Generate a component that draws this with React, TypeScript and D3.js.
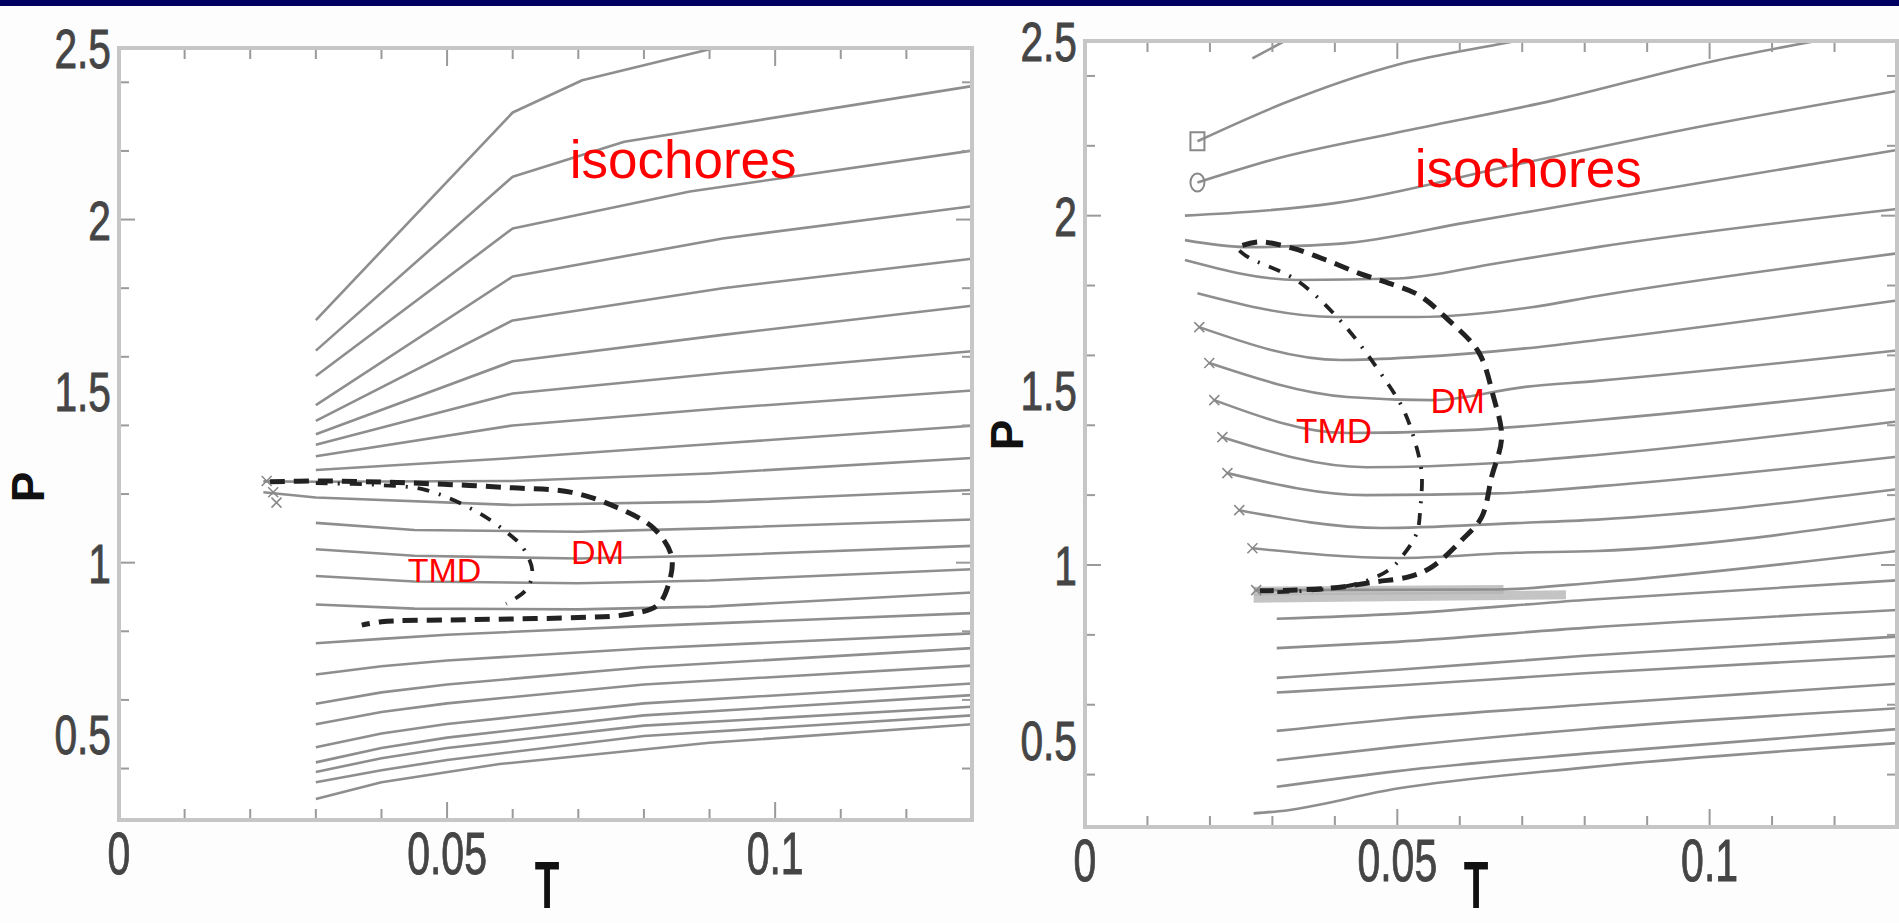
import React from "react";
import * as d3 from "d3";

type Pt = [number, number];

// tick labels
const xTickLabels = [0, 0.05, 0.1];
const yTickLabels = [0.5, 1, 1.5, 2, 2.5];

// left panel: isochores (T, P)
const leftIsochores: Pt[][] = [
  [[0.03, 1.707], [0.06, 2.312], [0.0706, 2.406], [0.0897, 2.495], [0.093, 2.51]],
  [[0.03, 1.618], [0.06, 2.125], [0.077, 2.227], [0.13, 2.389]],
  [[0.03, 1.544], [0.06, 1.974], [0.087, 2.082], [0.13, 2.201]],
  [[0.03, 1.459], [0.06, 1.834], [0.092, 1.945], [0.13, 2.039]],
  [[0.03, 1.413], [0.06, 1.706], [0.092, 1.8], [0.13, 1.886]],
  [[0.03, 1.374], [0.06, 1.587], [0.092, 1.664], [0.13, 1.749]],
  [[0.03, 1.344], [0.06, 1.493], [0.092, 1.553], [0.13, 1.616]],
  [[0.03, 1.31], [0.06, 1.4], [0.092, 1.45], [0.13, 1.502]],
  [[0.03, 1.27], [0.06, 1.305], [0.092, 1.348], [0.13, 1.399]],
  [[0.022, 1.237], [0.03, 1.236], [0.06, 1.238], [0.09, 1.26], [0.13, 1.305]],
  [[0.022, 1.205], [0.03, 1.19], [0.06, 1.168], [0.09, 1.178], [0.13, 1.212]],
  [[0.03, 1.116], [0.045, 1.095], [0.07, 1.09], [0.09, 1.1], [0.13, 1.126]],
  [[0.03, 1.039], [0.045, 1.02], [0.07, 1.012], [0.09, 1.02], [0.13, 1.049]],
  [[0.03, 0.961], [0.045, 0.945], [0.07, 0.94], [0.09, 0.948], [0.13, 0.981]],
  [[0.03, 0.878], [0.045, 0.866], [0.07, 0.864], [0.09, 0.872], [0.13, 0.913]],
  [[0.03, 0.765], [0.04, 0.778], [0.05, 0.79], [0.08, 0.815], [0.13, 0.853]],
  [[0.03, 0.674], [0.04, 0.698], [0.05, 0.715], [0.08, 0.75], [0.13, 0.794]],
  [[0.03, 0.589], [0.04, 0.622], [0.05, 0.645], [0.08, 0.695], [0.13, 0.751]],
  [[0.03, 0.529], [0.04, 0.565], [0.05, 0.59], [0.08, 0.645], [0.13, 0.7]],
  [[0.03, 0.462], [0.04, 0.502], [0.05, 0.53], [0.08, 0.59], [0.13, 0.648]],
  [[0.03, 0.418], [0.04, 0.46], [0.05, 0.49], [0.08, 0.555], [0.13, 0.614]],
  [[0.03, 0.39], [0.04, 0.43], [0.05, 0.46], [0.08, 0.525], [0.13, 0.58]],
  [[0.03, 0.36], [0.04, 0.395], [0.05, 0.425], [0.08, 0.495], [0.13, 0.555]],
  [[0.03, 0.311], [0.04, 0.36], [0.058, 0.413], [0.09, 0.475], [0.13, 0.529]],
];

const leftDM: Pt[] = [
  [0.023, 1.236], [0.03, 1.238], [0.04, 1.235], [0.05, 1.228], [0.06, 1.218],
  [0.069, 1.205], [0.076, 1.16], [0.0815, 1.1], [0.0842, 1.02], [0.0838, 0.94],
  [0.082, 0.875], [0.077, 0.848], [0.07, 0.84], [0.06, 0.836], [0.05, 0.833],
  [0.04, 0.828], [0.037, 0.818],
];

const leftTMD: Pt[] = [
  [0.03, 1.232], [0.04, 1.226], [0.0467, 1.212], [0.0544, 1.15], [0.059, 1.09],
  [0.0615, 1.045], [0.063, 0.975], [0.062, 0.92], [0.059, 0.88],
];

const leftCrosses: Pt[] = [[0.0225, 1.238], [0.0235, 1.205], [0.024, 1.175]];

// right panel: isochores (T, P)
const rightIsochores: Pt[][] = [
  [[0.0268, 2.45], [0.033, 2.51]],
  [[0.018, 2.213], [0.032, 2.323], [0.05, 2.432], [0.066, 2.49], [0.072, 2.51]],
  [[0.018, 2.095], [0.03, 2.16], [0.05, 2.238], [0.075, 2.33], [0.1, 2.44], [0.12, 2.51]],
  [[0.016, 2.0], [0.04, 2.036], [0.07, 2.15], [0.1, 2.26], [0.13, 2.357]],
  [[0.016, 1.93], [0.026, 1.91], [0.041, 1.92], [0.061, 1.98], [0.082, 2.045], [0.13, 2.188]],
  [[0.016, 1.873], [0.034, 1.816], [0.05, 1.82], [0.066, 1.864], [0.082, 1.91], [0.13, 2.019]],
  [[0.018, 1.778], [0.04, 1.71], [0.053, 1.71], [0.0715, 1.738], [0.082, 1.77], [0.13, 1.892]],
  [[0.0183, 1.681], [0.041, 1.587], [0.053, 1.595], [0.0705, 1.62], [0.082, 1.644], [0.13, 1.757]],
  [[0.0199, 1.578], [0.042, 1.481], [0.0555, 1.472], [0.0705, 1.51], [0.082, 1.527], [0.13, 1.614]],
  [[0.0207, 1.472], [0.042, 1.378], [0.061, 1.386], [0.082, 1.415], [0.13, 1.504]],
  [[0.022, 1.366], [0.045, 1.28], [0.066, 1.292], [0.082, 1.315], [0.13, 1.411]],
  [[0.0228, 1.263], [0.045, 1.2], [0.066, 1.205], [0.082, 1.225], [0.13, 1.31]],
  [[0.0247, 1.157], [0.0475, 1.106], [0.069, 1.12], [0.082, 1.13], [0.13, 1.217]],
  [[0.0268, 1.048], [0.05, 1.02], [0.069, 1.035], [0.082, 1.04], [0.13, 1.133]],
  [[0.0274, 0.928], [0.066, 0.93], [0.082, 0.95], [0.13, 1.04]],
  [[0.0307, 0.846], [0.05, 0.86], [0.08, 0.9], [0.13, 0.956]],
  [[0.0307, 0.762], [0.05, 0.78], [0.08, 0.82], [0.13, 0.871]],
  [[0.0307, 0.677], [0.05, 0.7], [0.08, 0.74], [0.13, 0.795]],
  [[0.0307, 0.635], [0.05, 0.655], [0.08, 0.69], [0.13, 0.74]],
  [[0.0307, 0.525], [0.05, 0.56], [0.08, 0.6], [0.13, 0.66]],
  [[0.0307, 0.441], [0.05, 0.48], [0.08, 0.53], [0.13, 0.59]],
  [[0.0307, 0.365], [0.05, 0.41], [0.08, 0.46], [0.13, 0.53]],
  [[0.027, 0.289], [0.031, 0.295], [0.05, 0.36], [0.08, 0.42], [0.13, 0.49]],
];

const rightDM: Pt[] = [
  [0.0252, 1.915], [0.028, 1.925], [0.0332, 1.907], [0.0386, 1.873], [0.0439, 1.835],
  [0.0486, 1.807], [0.0534, 1.773], [0.0582, 1.701], [0.063, 1.61], [0.0654, 1.481],
  [0.0667, 1.366], [0.0651, 1.252], [0.0635, 1.137], [0.0603, 1.071], [0.0555, 0.994],
  [0.0518, 0.966], [0.0466, 0.952], [0.04, 0.935], [0.033, 0.928], [0.028, 0.926],
];

const rightTMD: Pt[] = [
  [0.0247, 1.9], [0.0263, 1.879], [0.0338, 1.816], [0.0412, 1.693], [0.0481, 1.529],
  [0.051, 1.444], [0.0529, 1.349], [0.0539, 1.263], [0.0537, 1.166], [0.0531, 1.091],
  [0.0507, 1.023], [0.0486, 0.985], [0.0439, 0.948], [0.038, 0.93], [0.03, 0.922],
];

const rightBand: Pt[][] = [
  [[0.027, 0.925], [0.067, 0.93]],
  [[0.027, 0.905], [0.077, 0.915]],
];

const rightCrosses: Pt[] = [
  [0.0183, 1.681], [0.0199, 1.578], [0.0207, 1.472], [0.022, 1.366],
  [0.0228, 1.263], [0.0247, 1.157], [0.0268, 1.048], [0.0274, 0.928],
];
const rightSquares: Pt[] = [[0.018, 2.213]];
const rightCircles: Pt[] = [[0.018, 2.095]];

type Note = { text: string; t: number; p: number; size: number };

const leftNotes: Note[] = [
  { text: "isochores", t: 0.0687, p: 2.122, size: 53 },
  { text: "TMD", t: 0.044, p: 0.945, size: 34 },
  { text: "DM", t: 0.0689, p: 0.995, size: 34 },
];
const rightNotes: Note[] = [
  { text: "isochores", t: 0.0528, p: 2.082, size: 53 },
  { text: "TMD", t: 0.0338, p: 1.349, size: 35 },
  { text: "DM", t: 0.0553, p: 1.435, size: 35 },
];

type PanelProps = {
  id: string;
  x0: number; x1: number; yTop: number; yBot: number;
  isochores: Pt[][];
  smooth: boolean;
  dm: Pt[];
  tmd: Pt[];
  notes: Note[];
  crosses: Pt[];
  squares?: Pt[];
  circles?: Pt[];
  band?: Pt[][];
  pLabel: [number, number];
  tLabel: [number, number];
};

const font = "'Liberation Sans', Arial, sans-serif";

const Panel = (props: PanelProps) => {
  const { id, x0, x1, yTop, yBot } = props;
  const x = d3.scaleLinear().domain([0, 0.13]).range([x0, x1]);
  const y = d3.scaleLinear().domain([0.25, 2.5]).range([yBot, yTop]);

  const iso = d3.line<Pt>().x((d) => x(d[0])).y((d) => y(d[1]))
    .curve(props.smooth ? d3.curveMonotoneX : d3.curveLinear);
  const loop = d3.line<Pt>().x((d) => x(d[0])).y((d) => y(d[1])).curve(d3.curveCatmullRom);

  const xMinor = x.ticks(13);
  const yMinor = y.ticks(9);
  const frame = "#c6c6c6";

  return (
    <g>
      <defs>
        <clipPath id={id}>
          <rect x={x0} y={yTop} width={x1 - x0} height={yBot - yTop} />
        </clipPath>
      </defs>
      <rect x={x0} y={yTop} width={x1 - x0} height={yBot - yTop} fill="#fff" />

      <g clipPath={`url(#${id})`}>
        {props.band?.map((b, i) => (
          <path key={i} d={iso(b) ?? ""} fill="none" stroke="#b5b5b5" strokeWidth={9} opacity={0.8} />
        ))}
        {props.isochores.map((line, i) => (
          <path key={i} d={iso(line) ?? ""} fill="none" stroke="#8e8e8e" strokeWidth={2.6}
            strokeLinejoin="round" />
        ))}
        <path d={loop(props.dm) ?? ""} fill="none" stroke="#222" strokeWidth={5} strokeDasharray="15 9" />
        <path d={loop(props.tmd) ?? ""} fill="none" stroke="#222" strokeWidth={3.8} strokeDasharray="12 10 2 10" />
        {props.crosses.map((c, i) => (
          <g key={i} stroke="#888" strokeWidth={1.5}>
            <line x1={x(c[0]) - 5} y1={y(c[1]) - 5} x2={x(c[0]) + 5} y2={y(c[1]) + 5} />
            <line x1={x(c[0]) - 5} y1={y(c[1]) + 5} x2={x(c[0]) + 5} y2={y(c[1]) - 5} />
          </g>
        ))}
        {props.squares?.map((c, i) => (
          <rect key={i} x={x(c[0]) - 7} y={y(c[1]) - 9} width={14} height={18} fill="none" stroke="#888" strokeWidth={2} />
        ))}
        {props.circles?.map((c, i) => (
          <ellipse key={i} cx={x(c[0])} cy={y(c[1])} rx={7} ry={9} fill="none" stroke="#888" strokeWidth={2} />
        ))}
      </g>

      {/* ticks on all four sides */}
      <g stroke="#9a9a9a" strokeWidth={2}>
        {xMinor.map((t, i) => {
          const len = Math.abs(t * 100 - Math.round(t * 20) * 5) < 1e-6 ? 18 : 11;
          return (
            <g key={i}>
              <line x1={x(t)} x2={x(t)} y1={yBot} y2={yBot - len} />
              <line x1={x(t)} x2={x(t)} y1={yTop} y2={yTop + len} />
            </g>
          );
        })}
        {yMinor.map((p, i) => {
          const len = Math.abs(p * 2 - Math.round(p * 2)) < 1e-6 ? 16 : 10;
          return (
            <g key={i}>
              <line x1={x0} x2={x0 + len} y1={y(p)} y2={y(p)} />
              <line x1={x1} x2={x1 - len} y1={y(p)} y2={y(p)} />
            </g>
          );
        })}
      </g>
      <rect x={x0} y={yTop} width={x1 - x0} height={yBot - yTop} fill="none" stroke={frame} strokeWidth={4} />

      {/* tick labels */}
      {xTickLabels.map((t) => (
        <text key={t} transform={`translate(${x(t)},${yBot + 54}) scale(0.72,1.04)`} textAnchor="middle"
          fontFamily={font} fontSize={57} fill="#454545" stroke="#454545" strokeWidth={0.9}>
          {String(t)}
        </text>
      ))}
      {yTickLabels.map((p) => (
        <text key={p} transform={`translate(${x0 - 8},${y(p) + 20}) scale(0.74,1)`} textAnchor="end"
          fontFamily={font} fontSize={55} fill="#454545" stroke="#454545" strokeWidth={0.9}>
          {String(p)}
        </text>
      ))}

      {/* axis titles */}
      <text transform={`translate(${props.pLabel[0]},${props.pLabel[1]}) rotate(-90)`} textAnchor="middle"
        dominantBaseline="central" fontFamily={font} fontWeight="bold" fontSize={46} fill="#111">
        P
      </text>
      <text transform={`translate(${props.tLabel[0]},${props.tLabel[1]}) scale(0.72,1.2)`} textAnchor="middle"
        fontFamily={font} fontWeight="bold" fontSize={56} fill="#111">
        T
      </text>

      {props.notes.map((n) => (
        <text key={n.text} x={x(n.t)} y={y(n.p)} fontFamily={font} fontSize={n.size} fill="#ff0000">
          {n.text}
        </text>
      ))}
    </g>
  );
};

const App = () => {
  return (
    <svg width={1899} height={923} style={{ position: "absolute", left: 0, top: 0, display: "block", background: "#fff" }}>
      <rect x={0} y={0} width={1899} height={923} fill="#fdfdfd" />
      <Panel
        id="clip-left"
        x0={119} x1={972} yTop={48} yBot={820}
        isochores={leftIsochores}
        smooth={false}
        dm={leftDM}
        tmd={leftTMD}
        notes={leftNotes}
        crosses={leftCrosses}
        pLabel={[28, 487]}
        tLabel={[547, 908]}
      />
      <Panel
        id="clip-right"
        x0={1085} x1={1897} yTop={41} yBot={827}
        isochores={rightIsochores}
        smooth={true}
        dm={rightDM}
        tmd={rightTMD}
        notes={rightNotes}
        crosses={rightCrosses}
        squares={rightSquares}
        circles={rightCircles}
        band={rightBand}
        pLabel={[1007, 435]}
        tLabel={[1476, 908]}
      />
      <rect x={0} y={0} width={1899} height={6} fill="#000062" />
    </svg>
  );
};

export default App;
